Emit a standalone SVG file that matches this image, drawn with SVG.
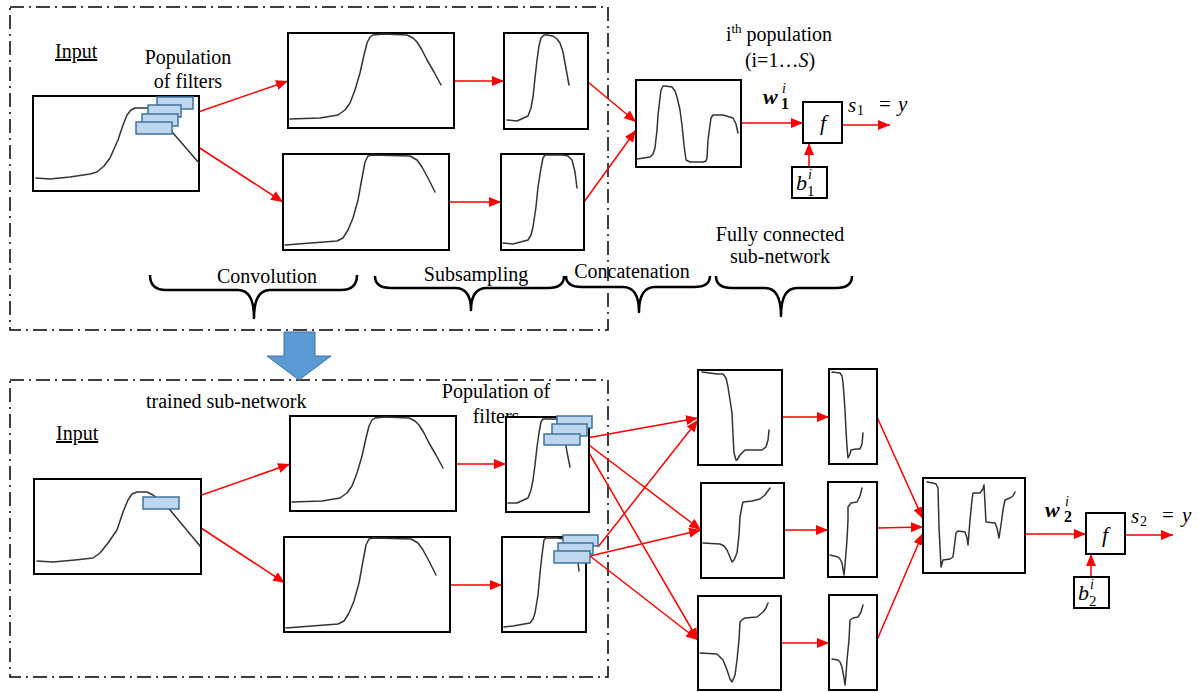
<svg xmlns="http://www.w3.org/2000/svg" width="1198" height="692" viewBox="0 0 1198 692">
<defs>
<marker id="ah" markerWidth="12" markerHeight="10" refX="12" refY="5" orient="auto" markerUnits="userSpaceOnUse"><path d="M0,0 L12,5 L0,10 z" fill="#ff0000"/></marker>
<style>
.frame{fill:none;stroke:#000;stroke-width:1.5;stroke-dasharray:14 5 2 5}
.box{fill:#fff;stroke:#000;stroke-width:2}
.curve{fill:none;stroke:#333;stroke-width:1.5;stroke-linejoin:round;stroke-linecap:round}
.filt{fill:#bdd7ee;stroke:#41719c;stroke-width:1.5}
.con{fill:none;stroke:#ff0000;stroke-width:1.5;marker-end:url(#ah)}
.brace{fill:none;stroke:#000;stroke-width:2.5;stroke-linejoin:round}
.t{font-family:"Liberation Serif","Times New Roman",serif;font-size:20px;fill:#000}
.m{font-family:"Liberation Serif","Times New Roman",serif;font-style:italic;fill:#000}
.n{font-family:"Liberation Serif","Times New Roman",serif;font-style:normal;fill:#000}
</style>
</defs>
<rect width="1198" height="692" fill="#fff"/>

<g id="frames">
<rect class="frame" x="10" y="7" width="598" height="323"/>
<rect class="frame" x="10" y="380" width="598" height="297"/>
</g>

<g id="labels">
<text class="t" x="55" y="58" text-decoration="underline">Input</text>
<text class="t" x="188" y="64" text-anchor="middle">Population</text>
<text class="t" x="188" y="88" text-anchor="middle">of filters</text>
<text class="t" x="267" y="283" text-anchor="middle">Convolution</text>
<text class="t" x="476" y="281" text-anchor="middle">Subsampling</text>
<text class="t" x="632" y="278" text-anchor="middle">Concatenation</text>
<text class="t" x="780" y="241" text-anchor="middle">Fully connected</text>
<text class="t" x="780" y="263" text-anchor="middle">sub-network</text>
<text class="t" x="779" y="41" text-anchor="middle">i<tspan font-size="13" dy="-8">th</tspan><tspan dy="8"> population</tspan></text>
<text class="t" x="780" y="67" text-anchor="middle">(i=1…<tspan font-style="italic">S</tspan>)</text>
<text class="t" x="146" y="408">trained sub-network</text>
<text class="t" x="56" y="440" text-decoration="underline">Input</text>
<text class="t" x="496" y="398" text-anchor="middle">Population of</text>
<text class="t" x="496" y="423" text-anchor="middle">filters</text>
</g>

<g id="braces">
<path class="brace" d="M150,275 Q150,290 166,290 L238,290 Q254,290 254,318 Q254,290 270,290 L341,290 Q357,290 357,275"/>
<path class="brace" d="M375,276 Q375,288 391,288 L455,288 Q471,288 471,310 Q471,288 487,288 L548,288 Q564,288 564,276"/>
<path class="brace" d="M566,276 Q566,287 582,287 L623,287 Q639,287 639,312 Q639,287 655,287 L694,287 Q710,287 710,276"/>
<path class="brace" d="M716,276 Q716,288 732,288 L765,288 Q781,288 781,316 Q781,288 797,288 L836,288 Q852,288 852,276"/>
</g>

<g id="blue-arrow">
<polygon points="284,332 315,332 315,356 331,356 299,380 267,356 284,356" fill="#5b9bd5" stroke="#41719c" stroke-width="1"/>
</g>

<g id="connectors">
<line class="con" x1="178" y1="119" x2="288" y2="81"/>
<line class="con" x1="172" y1="130" x2="283" y2="202"/>
<line class="con" x1="454" y1="81" x2="504" y2="81"/>
<line class="con" x1="449" y1="202" x2="501" y2="202"/>
<line class="con" x1="588" y1="82" x2="636" y2="122"/>
<line class="con" x1="584" y1="202" x2="636" y2="130"/>
<line class="con" x1="741" y1="123" x2="803" y2="123"/>
<line class="con" x1="842" y1="125" x2="890" y2="125"/>
<line class="con" x1="809" y1="167" x2="809" y2="143"/>
<line class="con" x1="179" y1="503" x2="290" y2="464"/>
<line class="con" x1="172" y1="509" x2="285" y2="583"/>
<line class="con" x1="456" y1="464" x2="506" y2="464"/>
<line class="con" x1="450" y1="585" x2="502" y2="585"/>
<line class="con" x1="581" y1="439" x2="698" y2="418"/>
<line class="con" x1="581" y1="439" x2="701" y2="530"/>
<line class="con" x1="581" y1="439" x2="698" y2="640"/>
<line class="con" x1="598" y1="547" x2="698" y2="420"/>
<line class="con" x1="590" y1="556" x2="701" y2="530"/>
<line class="con" x1="590" y1="556" x2="698" y2="640"/>
<line class="con" x1="782" y1="417" x2="829" y2="417"/>
<line class="con" x1="784" y1="530" x2="828" y2="530"/>
<line class="con" x1="781" y1="643" x2="829" y2="643"/>
<line class="con" x1="877" y1="417" x2="923" y2="519"/>
<line class="con" x1="877" y1="528" x2="923" y2="527"/>
<line class="con" x1="877" y1="640" x2="923" y2="533"/>
<line class="con" x1="1025" y1="534" x2="1086" y2="534"/>
<line class="con" x1="1125" y1="535" x2="1173" y2="535"/>
<line class="con" x1="1091" y1="577" x2="1091" y2="554"/>
</g>

<g id="input-top">
<rect class="box" x="33" y="96" width="166" height="95"/>
<polyline class="curve" points="36,178 50,179 70,177 90,174 97,172 104,166 110,158 118,140 123,125 127,115 131,110 135,108 147,108 152,110 160,118 173,133 186,148 199,163"/>
<rect class="filt" x="157" y="97" width="36" height="12"/>
<rect class="filt" x="148" y="105" width="33" height="12"/>
<rect class="filt" x="142" y="114" width="36" height="12"/>
<rect class="filt" x="136" y="122" width="36" height="12"/>
</g>

<g id="conv-top-1">
<rect class="box" x="288" y="33" width="166" height="95"/>
<polyline class="curve" points="290,119 320,118 338,115 345,110 350,103 355,90 360,73 364,55 367,43 370,37 373,35 383,34 407,35 413,38 417,42 422,50 427,60 434,72 441,85"/>
</g>
<g id="conv-top-2">
<rect class="box" x="283" y="154" width="166" height="96"/>
<polyline class="curve" points="285,245 337,241 343,238 348,230 353,218 358,200 362,178 365,162 368,156 372,155 410,156 417,160 422,167 428,178 435,192"/>
</g>
<g id="sub-top-1">
<rect class="box" x="504" y="33" width="84" height="96"/>
<polyline class="curve" points="507,120 517,121 528,116 531,108 533,97 535,78 537,60 539,46 541,38 544,35 547,35 553,36 557,39 560,43 563,52 565,63 567,74 569,85"/>
</g>
<g id="sub-top-2">
<rect class="box" x="501" y="154" width="83" height="96"/>
<polyline class="curve" points="503,243 513,244 528,240 531,235 533,227 536,207 538,187 541,168 543,158 545,155 547,155 563,155 568,156 572,160 575,172 577,188"/>
</g>
<g id="concat-top">
<rect class="box" x="636" y="80" width="105" height="87"/>
<polyline class="curve" points="637,159 650,157 653,154 655,148 657,130 658,115 660,98 661,90 663,86 665,86 672,87 675,91 677,97 680,110 682,125 684,145 686,160 690,162 703,162 706,161 707,158 708,140 710,125 711,118 713,115 723,115 733,118 736,124 738,133"/>
</g>
<g id="f-top">
<rect class="box" x="803" y="102" width="39" height="41"/>
<text class="m" x="823" y="130" font-size="22" text-anchor="middle">f</text>
</g>
<g id="b-top">
<rect class="box" x="792" y="167" width="35" height="31"/>
<text class="m" x="796" y="190" font-size="22">b</text>
<text class="m" x="808" y="179" font-size="14">i</text>
<text class="n" x="807" y="196" font-size="15">1</text>
</g>
<g id="math-top">
<text class="m" x="763" y="104" font-size="22" font-weight="bold">w</text>
<text class="m" x="782" y="93" font-size="14">i</text>
<text class="n" x="781" y="109" font-size="16" font-weight="bold">1</text>
<text class="m" x="848" y="112" font-size="21">s</text>
<text class="n" x="857" y="115" font-size="14">1</text>
<text class="n" x="879" y="111" font-size="21">=</text>
<text class="m" x="898" y="111" font-size="21">y</text>
</g>

<g id="input-bottom">
<rect class="box" x="34" y="479" width="167" height="95"/>
<polyline class="curve" points="37,561 53,562 75,560 93,558 100,553 108,543 117,530 123,512 128,500 132,494 137,492 147,492 153,495 160,500 170,510 185,528 200,546"/>
<rect class="filt" x="143" y="497" width="36" height="12"/>
</g>
<g id="conv-bottom-1">
<rect class="box" x="290" y="416" width="166" height="95"/>
<polyline class="curve" points="292,502 322,501 340,498 347,493 352,486 357,473 362,456 366,438 369,426 372,420 375,418 385,417 409,418 415,421 419,425 424,433 429,443 436,455 443,468"/>
</g>
<g id="conv-bottom-2">
<rect class="box" x="284" y="537" width="166" height="95"/>
<polyline class="curve" points="286,628 338,624 344,621 349,613 354,601 359,583 363,561 366,545 369,539 373,538 411,539 418,543 423,550 429,561 436,575"/>
</g>
<g id="sub-bottom-1">
<rect class="box" x="506" y="417" width="83" height="95"/>
<polyline class="curve" points="508,503 517,503 528,498 531,490 533,480 535,465 537,447 539,433 541,422 543,419 545,419 556,419 562,425 565,440 567,452 570,467"/>
<rect class="filt" x="557" y="416" width="35" height="12"/>
<rect class="filt" x="552" y="424" width="35" height="12"/>
<rect class="filt" x="544" y="434" width="36" height="11"/>
</g>
<g id="sub-bottom-2">
<rect class="box" x="502" y="537" width="84" height="95"/>
<polyline class="curve" points="504,627 513,626 530,623 533,619 535,613 538,595 540,573 542,555 544,540 546,538 557,538 570,540 575,548 578,563 579,571"/>
<rect class="filt" x="563" y="535" width="35" height="11"/>
<rect class="filt" x="558" y="543" width="35" height="11"/>
<rect class="filt" x="554" y="551" width="36" height="12"/>
</g>
<g id="conv-a">
<rect class="box" x="698" y="370" width="84" height="95"/>
<polyline class="curve" points="702,372 717,374 723,374 726,378 728,387 730,400 732,413 733,435 734,453 736,460 737,460 740,455 745,450 762,450 766,447 768,440 769,430"/>
</g>
<g id="sub-a">
<rect class="box" x="829" y="369" width="48" height="95"/>
<polyline class="curve" points="832,372 840,373 842,376 843,383 844,395 845,410 846,430 847,447 848,458 850,454 851,450 856,449 860,449 862,444 863,433"/>
</g>
<g id="conv-b">
<rect class="box" x="701" y="483" width="83" height="95"/>
<polyline class="curve" points="703,543 720,544 724,546 727,550 730,557 732,562 734,560 737,553 739,535 740,517 742,506 743,502 752,501 760,499 765,495 767,492 770,488"/>
</g>
<g id="sub-b">
<rect class="box" x="828" y="482" width="49" height="95"/>
<polyline class="curve" points="830,555 838,557 840,559 842,563 844,575 845,565 847,540 848,520 848,507 851,503 857,502 860,496 862,488"/>
</g>
<g id="conv-c">
<rect class="box" x="698" y="596" width="83" height="94"/>
<polyline class="curve" points="700,653 717,654 723,660 727,670 730,679 732,682 735,675 737,660 739,640 740,622 743,619 745,618 757,617 763,612 766,608 768,603"/>
</g>
<g id="sub-c">
<rect class="box" x="829" y="595" width="48" height="95"/>
<polyline class="curve" points="832,659 838,660 840,662 842,667 844,678 845,685 846,675 847,660 849,640 850,620 853,618 858,617 861,612 863,605"/>
</g>
<g id="concat-bottom">
<rect class="box" x="923" y="478" width="102" height="95"/>
<polyline class="curve" points="927,482 933,483 936,484 938,488 939,527 941,567 943,560 950,559 953,557 956,533 958,531 965,532 967,538 968,545 970,520 972,500 973,493 980,493 983,489 984,485 986,522 995,523 997,528 999,538 1001,525 1003,510 1005,500 1010,498 1013,496 1015,492"/>
</g>
<g id="f-bottom">
<rect class="box" x="1086" y="513" width="39" height="41"/>
<text class="m" x="1105" y="542" font-size="22" text-anchor="middle">f</text>
</g>
<g id="b-bottom">
<rect class="box" x="1074" y="577" width="35" height="31"/>
<text class="m" x="1078" y="600" font-size="22">b</text>
<text class="m" x="1090" y="589" font-size="14">i</text>
<text class="n" x="1089" y="606" font-size="15">2</text>
</g>
<g id="math-bottom">
<text class="m" x="1045" y="517" font-size="22" font-weight="bold">w</text>
<text class="m" x="1065" y="506" font-size="14">i</text>
<text class="n" x="1064" y="522" font-size="16" font-weight="bold">2</text>
<text class="m" x="1131" y="523" font-size="21">s</text>
<text class="n" x="1140" y="526" font-size="14">2</text>
<text class="n" x="1162" y="522" font-size="21">=</text>
<text class="m" x="1182" y="522" font-size="21">y</text>
</g>
</svg>
